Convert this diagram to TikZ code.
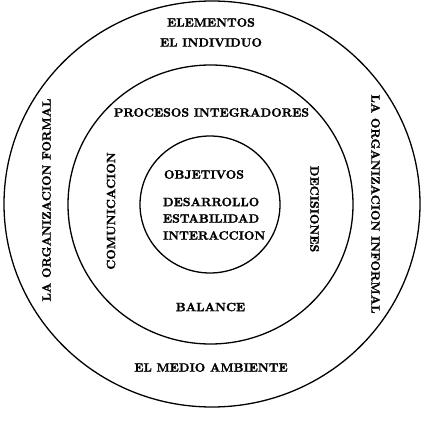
\documentclass[tikz,border=0pt]{standalone}
\usepackage{fontspec}
\newfontfamily\lblfont{lmroman10-bold.otf}[FakeBold=1.6]
\begin{document}
\begin{tikzpicture}[x=1pt,y=-1pt,
    ring/.style={draw=black,line width=1.3pt},
    lbl/.style={inner sep=0pt,outer sep=0pt,font=\lblfont\fontsize{12.1}{15}\selectfont}]
    \useasboundingbox (0,0) rectangle (423,422);

    \draw[ring] (212,204) ellipse [x radius=208, y radius=203];
    \draw[ring] (210.5,204.5) ellipse [x radius=142.5, y radius=139.5];
    \draw[ring] (210,204.5) ellipse [x radius=70, y radius=68.5];

    \node[lbl] (elem) at (211,22.5) {ELEMENTOS};
    \node[lbl] (indiv) at (211,42.5) {EL INDIVIDUO};
    \node[lbl] (procs) at (211.5,112.5) {PROCESOS INTEGRADORES};

    \node[lbl,anchor=west] (obj) at (164,174.5) {OBJETIVOS};
    \node[lbl,anchor=west] (desa) at (163,202) {DESARROLLO};
    \node[lbl,anchor=west] (esta) at (163,218.5) {ESTABILIDAD};
    \node[lbl,anchor=west] (inter) at (163,235.5) {INTERACCION};

    \node[lbl] (bal) at (210.5,307) {BALANCE};
    \node[lbl] (medio) at (211,367.5) {EL MEDIO AMBIENTE};

    \node[lbl,rotate=90] (comu) at (111,211) {COMUNICACION};
    \node[lbl,rotate=-90] (deci) at (314.5,209) {DECISIONES};
    \node[lbl,rotate=90] (formal) at (46.5,200) {LA ORGANIZACION FORMAL};
    \node[lbl,rotate=-90] (informal) at (375.5,204) {LA ORGANIZACION INFORMAL};
\end{tikzpicture}
\end{document}
